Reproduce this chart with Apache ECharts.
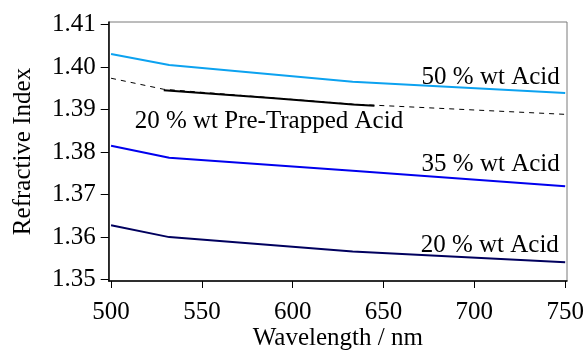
<!DOCTYPE html>
<html>
<head>
<meta charset="utf-8">
<script src="https://cdn.jsdelivr.net/npm/echarts@6/dist/echarts.min.js"></script>
<style>
  html, body { margin: 0; padding: 0; background: #fff; }
  #chart { width: 586px; height: 350px; }
</style>
</head>
<body>
<div id="chart"></div>
<script>
// values
const wavelengthTicks = [500, 550, 600, 650, 700, 750];
const indexTicks = [1.35, 1.36, 1.37, 1.38, 1.39, 1.40, 1.41];

const acid50 = [[500, 1.4031], [532, 1.4005], [633, 1.3966], [750, 1.3939]];
const acid35 = [[500, 1.3815], [532, 1.3787], [633, 1.3756], [750, 1.3720]];
const acid20 = [[500, 1.3628], [532, 1.3600], [633, 1.3566], [750, 1.3541]];
const preTrappedFit = [[500, 1.3974], [529, 1.3948], [633, 1.3913], [750, 1.3889]];
const preTrappedMeasured = [[529, 1.3946], [590, 1.3927], [633, 1.3912], [645, 1.3909]];

const labelTexts = ["50 % wt Acid", "35 % wt Acid", "20 % wt Acid", "20 % wt Pre-Trapped Acid"];
const labelAnchors = [[747, 1.3975], [747, 1.3772], [746.5, 1.3580], [513, 1.3873]];

const font = "Liberation Serif";
const fontSize = 25;

function textMark(i, align) {
  return {
    coord: labelAnchors[i],
    symbolSize: 0,
    label: {
      show: true,
      formatter: labelTexts[i],
      position: [0, 0],
      align: align,
      verticalAlign: "middle",
      color: "#000",
      fontFamily: font,
      fontSize: fontSize,
    },
  };
}

function lineSeries(name, data, color, width, type, marks) {
  return {
    type: "line",
    name: name,
    data: data,
    showSymbol: false,
    smooth: false,
    lineStyle: { color: color, width: width, type: type },
    z: Array.isArray(type) ? 1 : 2,
    markPoint: marks ? { symbol: "circle", data: marks, silent: true } : undefined,
  };
}

const chart = echarts.init(document.getElementById("chart"));
chart.setOption({
  animation: false,
  textStyle: { fontFamily: font },
  grid: {
    left: 108.7,
    right: 19,
    top: 22,
    bottom: 69,
    outerBoundsMode: "none",
    containLabel: false,
    show: true,
    borderColor: "#7a7a7a",
    borderWidth: 1,
  },
  xAxis: {
    type: "value",
    min: 498.7,
    max: 751,
    name: "Wavelength / nm",
    nameLocation: "middle",
    nameGap: 45,
    nameMoveOverlap: false,
    nameTextStyle: { color: "#000", fontFamily: font, fontSize: fontSize },
    axisLine: { show: true, lineStyle: { color: "#000", width: 1.5 } },
    axisTick: { show: true, length: 7, customValues: wavelengthTicks, lineStyle: { color: "#000" } },
    axisLabel: { customValues: wavelengthTicks, margin: 19, color: "#000", fontFamily: font, fontSize: fontSize },
    splitLine: { show: false },
  },
  yAxis: {
    type: "value",
    min: 1.34967,
    max: 1.41064,
    name: "Refractive Index",
    nameLocation: "middle",
    nameGap: 73,
    nameMoveOverlap: false,
    nameTextStyle: { color: "#000", fontFamily: font, fontSize: fontSize },
    axisLine: { show: true, lineStyle: { color: "#000", width: 1.5 } },
    axisTick: { show: true, length: 8, customValues: indexTicks, lineStyle: { color: "#000" } },
    axisLabel: {
      customValues: indexTicks,
      margin: 13,
      color: "#000",
      fontFamily: font,
      fontSize: fontSize,
      formatter: (v) => v.toFixed(2),
    },
    splitLine: { show: false },
  },
  series: [
    lineSeries("Pre-trapped fit", preTrappedFit, "#000", 1, [5, 5]),
    lineSeries("Pre-trapped measured", preTrappedMeasured, "#000", 2, "solid", [textMark(3, "left")]),
    lineSeries("50 % wt Acid", acid50, "#0ca2f0", 2, "solid", [textMark(0, "right")]),
    lineSeries("35 % wt Acid", acid35, "#0000ee", 2, "solid", [textMark(1, "right")]),
    lineSeries("20 % wt Acid", acid20, "#00005e", 2, "solid", [textMark(2, "right")]),
  ],
});
</script>
</body>
</html>
